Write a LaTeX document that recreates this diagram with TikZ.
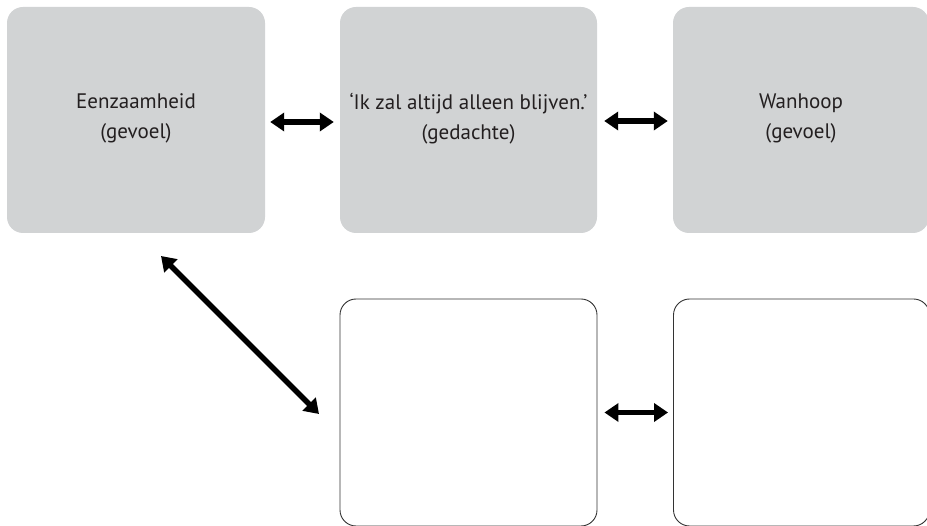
\documentclass[tikz,border=0pt]{standalone}
\usepackage{fontspec}
\setmainfont{PT Sans}
\usetikzlibrary{arrows.meta}
\definecolor{boxgray}{HTML}{D1D3D4}
\definecolor{txt}{HTML}{231F20}
\begin{document}
\begin{tikzpicture}[x=1pt,y=-1pt,
  graybox/.style={fill=boxgray,draw=none,rounded corners=16pt,minimum height=226pt,
    align=center,text=txt,font=\fontsize{21}{30}\selectfont,inner sep=0pt},
  whitebox/.style={fill=white,draw=black!80,line width=0.9pt,rounded corners=16pt,
    minimum height=227pt,inner sep=0pt},
  dblarrow/.style={line width=5.5pt,{Triangle[width=18pt,length=14pt]}-{Triangle[width=18pt,length=14pt]}}]
\useasboundingbox (0,0) rectangle (927,526);
\node[graybox,minimum width=258pt] (b1) at (136,120) {Eenzaamheid\\(gevoel)\\[-22pt]};
\node[graybox,minimum width=257pt] (b2) at (468.5,120) {‘Ik zal altijd alleen blijven.’\\(gedachte)\\[-22pt]};
\node[graybox,minimum width=256pt] (b3) at (801,120) {Wanhoop\\(gevoel)\\[-22pt]};
\node[whitebox,minimum width=257pt] (b4) at (468.5,412.5) {};
\node[whitebox,minimum width=256pt] (b5) at (801.5,412.5) {};
\coordinate (d1) at (161,256);
\coordinate (d2) at (319,414);
\draw[dblarrow,shorten <=5pt,shorten >=6pt] ([yshift=-2pt]b1.east) -- ([yshift=-2pt]b2.west);
\draw[dblarrow,shorten <=7pt,shorten >=5pt] ([yshift=-1pt]b2.east) -- ([yshift=-1pt]b3.west);
\draw[dblarrow,shorten <=7pt,shorten >=5pt] (b4.east) -- (b5.west);
\draw[dblarrow] (d1) -- (d2);
\end{tikzpicture}
\end{document}
